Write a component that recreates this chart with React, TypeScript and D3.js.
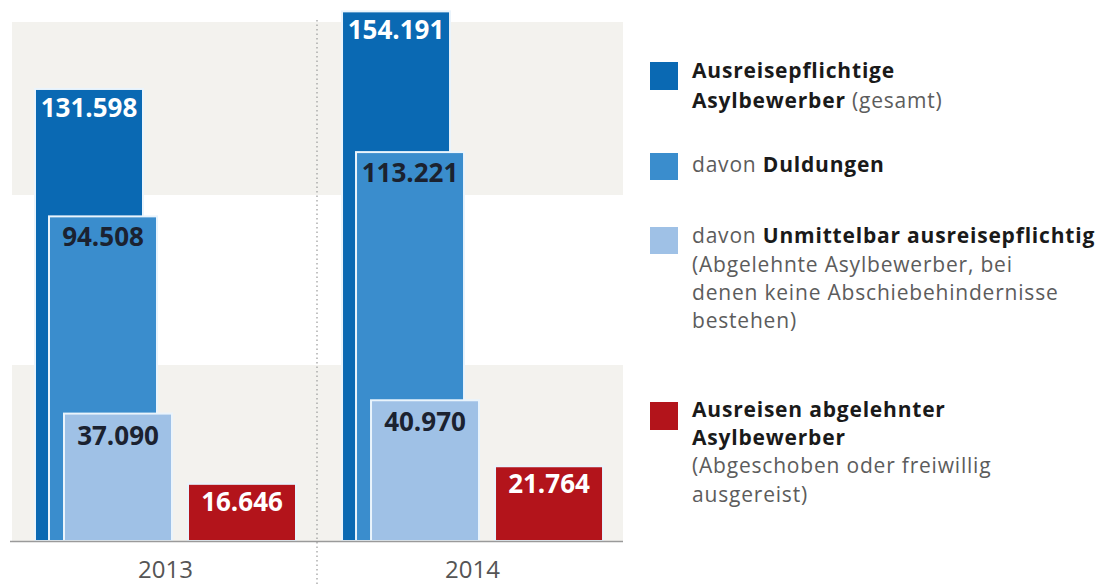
import React from "react";
import * as d3 from "d3";

const years = ["2013", "2014"];
const totalValues = [131598, 154191];
const duldungenValues = [94508, 113221];
const unmittelbarValues = [37090, 40970];
const ausreisenValues = [16646, 21764];
const valueLabels2013 = ["131.598", "94.508", "37.090", "16.646"];
const valueLabels2014 = ["154.191", "113.221", "40.970", "21.764"];

const W = 1097;
const H = 584;
const FONT = "'Open Sans', 'Noto Sans', sans-serif";

const series = [
  { key: "total", values: totalValues, color: "#0a69b3", text: "#ffffff", offset: 0, dy: 28 },
  { key: "duldungen", values: duldungenValues, color: "#3a8dcd", text: "#1b2230", offset: 14, dy: 30 },
  { key: "unmittelbar", values: unmittelbarValues, color: "#9fc1e6", text: "#1b2230", offset: 29, dy: 31 },
  { key: "ausreisen", values: ausreisenValues, color: "#b3141b", text: "#ffffff", offset: 153, dy: 27 },
];

export default function App() {
  const x = d3.scaleBand<string>().domain(years).range([35, 603]).paddingInner(0.15).paddingOuter(0);
  const y = d3.scaleLinear().domain([0, 157500]).range([541, 0]);
  const barW = 108;
  const labels = [valueLabels2013, valueLabels2014];

  const bold = { fontWeight: 700, fill: "#1a1a1a" } as const;
  const gray = { fontWeight: 400, fill: "#5c5c5c" } as const;
  const lx = 692;

  return (
    <div style={{ position: "fixed", left: 0, top: 0 }}>
      <svg width={W} height={H} style={{ display: "block", background: "#ffffff" }} fontFamily={FONT}>
        {/* background bands */}
        <rect x={12} y={22} width={611} height={173} fill="#f3f2ee" />
        <rect x={12} y={365} width={611} height={176} fill="#f3f2ee" />
        {/* divider */}
        <line x1={317} x2={317} y1={20} y2={584} stroke="#9a9a9a" strokeWidth={1.2} strokeDasharray="1.5,3" />
        {/* bars */}
        {years.map((yr, gi) => (
          <g key={yr}>
            {series.map((s, si) => {
              const bx = (x(yr) as number) + s.offset;
              const by = y(s.values[gi]);
              return (
                <g key={s.key}>
                  <rect x={bx} y={by} width={barW} height={y(0) - by} fill={s.color} stroke="#eaf4fc" strokeWidth={2} />
                  <text
                    x={bx + barW / 2}
                    y={by + s.dy}
                    textAnchor="middle"
                    fontSize={26}
                    fontWeight={700}
                    fill={s.text}
                  >
                    {labels[gi][si]}
                  </text>
                </g>
              );
            })}
            <text
              x={(x(yr) as number) + x.bandwidth() / 2}
              y={578}
              textAnchor="middle"
              fontSize={24}
              fill="#555555"
            >
              {yr}
            </text>
          </g>
        ))}
        {/* baseline */}
        <line x1={10} x2={623} y1={541.5} y2={541.5} stroke="#9a9a9a" strokeWidth={1.5} />

        {/* legend */}
        <g fontSize={21} letterSpacing={0.8}>
          <rect x={650} y={62} width={28} height={28} fill={series[0].color} />
          <text x={lx} y={78} style={bold}>Ausreisepflichtige</text>
          <text x={lx} y={108}>
            <tspan style={bold}>Asylbewerber</tspan>
            <tspan style={gray}> (gesamt)</tspan>
          </text>

          <rect x={650} y={153} width={28} height={27} fill={series[1].color} />
          <text x={lx} y={172}>
            <tspan style={gray}>davon </tspan>
            <tspan style={bold}>Duldungen</tspan>
          </text>

          <rect x={650} y={227} width={28} height={27} fill={series[2].color} />
          <text x={lx} y={243}>
            <tspan style={gray}>davon </tspan>
            <tspan style={bold}>Unmittelbar ausreisepflichtig</tspan>
          </text>
          <text x={lx} y={272} style={gray}>(Abgelehnte Asylbewerber, bei</text>
          <text x={lx} y={300} style={gray}>denen keine Abschiebehindernisse</text>
          <text x={lx} y={328} style={gray}>bestehen)</text>

          <rect x={650} y={402} width={28} height={28} fill={series[3].color} />
          <text x={lx} y={417} style={bold}>Ausreisen abgelehnter</text>
          <text x={lx} y={445} style={bold}>Asylbewerber</text>
          <text x={lx} y={473} style={gray}>(Abgeschoben oder freiwillig</text>
          <text x={lx} y={502} style={gray}>ausgereist)</text>
        </g>
      </svg>
    </div>
  );
}
